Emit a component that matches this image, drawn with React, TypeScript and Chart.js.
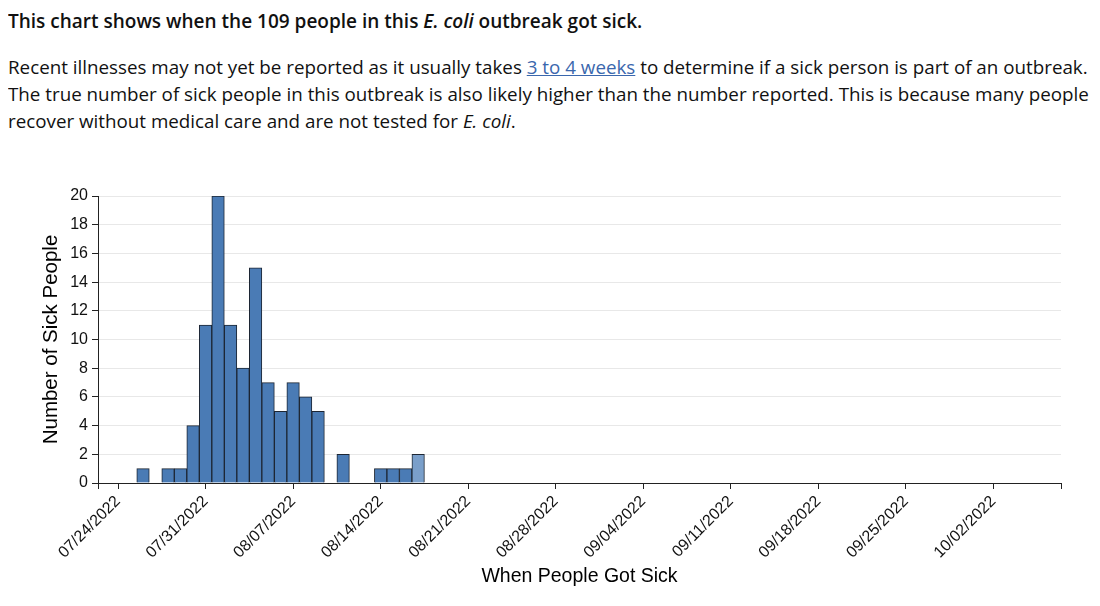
import React, { useEffect, useRef } from "react";
import { Chart, registerables } from "chart.js";

Chart.register(...registerables);

// ---- data ----
const onsetDates = [
  "07/26/2022", "07/28/2022", "07/29/2022", "07/30/2022", "07/31/2022",
  "08/01/2022", "08/02/2022", "08/03/2022", "08/04/2022", "08/05/2022",
  "08/06/2022", "08/07/2022", "08/08/2022", "08/09/2022", "08/11/2022",
  "08/14/2022", "08/15/2022", "08/16/2022", "08/17/2022",
];
const sickCounts = [1, 1, 1, 4, 11, 20, 11, 8, 15, 7, 5, 7, 6, 5, 2, 1, 1, 1, 2];
const xTickLabels = [
  "07/24/2022", "07/31/2022", "08/07/2022", "08/14/2022", "08/21/2022",
  "08/28/2022", "09/04/2022", "09/11/2022", "09/18/2022", "09/25/2022", "10/02/2022",
];
const yTickValues = [0, 2, 4, 6, 8, 10, 12, 14, 16, 18, 20];
const recentSince = "08/17/2022";
const domainStartOffset = -1.6; // days before first tick
const domainEndOffset = 75.4; // days after first tick

const refDate = xTickLabels[0];
function toUTC(s: string) {
  const [m, d, y] = s.split("/").map(Number);
  return Date.UTC(y, m - 1, d);
}
function dayIndex(s: string) {
  return Math.round((toUTC(s) - toUTC(refDate)) / 86400000);
}

const DARK = "#4a7bb5";
const LIGHT = "#7a9fca";
const AXIS_FONT = "'Liberation Sans', Arial, sans-serif";

export default function App() {
  const ref = useRef<HTMLCanvasElement | null>(null);

  useEffect(() => {
    if (!ref.current) return;
    const recentIdx = dayIndex(recentSince);
    const tickVals = xTickLabels.map(dayIndex);
    const labelMap = new Map<number, string>();
    xTickLabels.forEach((l) => labelMap.set(dayIndex(l), l));

    const chart = new Chart(ref.current, {
      type: "bar",
      data: {
        datasets: [
          {
            data: onsetDates.map((d, i) => ({ x: dayIndex(d), y: sickCounts[i] })),
            backgroundColor: (ctx: any) =>
              ctx.raw && ctx.raw.x >= recentIdx ? LIGHT : DARK,
            borderColor: "#1d2633",
            borderWidth: 1,
            categoryPercentage: 1,
            barPercentage: 1,
          } as any,
        ],
      },
      options: {
        animation: false,
        responsive: true,
        maintainAspectRatio: false,
        layout: { padding: { left: 0, right: 39, top: 46, bottom: 0 } },
        plugins: {
          legend: { display: false },
          tooltip: { enabled: false },
        },
        scales: {
          x: {
            type: "linear",
            min: domainStartOffset,
            max: domainEndOffset,
            offset: false,
            afterBuildTicks: (scale: any) => {
              scale.ticks = [domainStartOffset, ...tickVals, domainEndOffset].map((v) => ({ value: v }));
            },
            afterFit: (scale: any) => {
              scale.height = 123;
            },
            ticks: {
              autoSkip: false,
              maxRotation: 45,
              minRotation: 45,
              padding: 3,
              color: "#111",
              font: { family: AXIS_FONT, size: 16 },
              callback: (v: any) => labelMap.get(Number(v)) ?? "",
            },
            grid: {
              offset: false,
              drawOnChartArea: false,
              drawTicks: true,
              tickLength: 6,
              tickColor: "#222",
              tickWidth: 1,
            },
            border: { display: true, color: "#222", width: 1 },
            title: {
              display: true,
              text: "When People Got Sick",
              color: "#000",
              font: { family: AXIS_FONT, size: 19.5 },
              padding: { top: 0, bottom: 18 },
            },
          },
          y: {
            min: 0,
            max: 20,
            afterBuildTicks: (scale: any) => {
              scale.ticks = yTickValues.map((v) => ({ value: v }));
            },
            afterFit: (scale: any) => {
              scale.width = 98;
            },
            ticks: {
              padding: 4,
              color: "#111",
              font: { family: AXIS_FONT, size: 16 },
            },
            grid: {
              color: "#e8e8e8",
              lineWidth: 1,
              drawTicks: true,
              tickLength: 6,
              tickColor: "#222",
            },
            border: { display: true, color: "#222", width: 1 },
            title: {
              display: true,
              text: "Number of Sick People",
              color: "#000",
              font: { family: AXIS_FONT, size: 20.5 },
              padding: { top: 39, bottom: 0 },
            },
          },
        },
      } as any,
    });
    return () => chart.destroy();
  }, []);

  const textFont = "'Open Sans', 'Noto Sans', sans-serif";
  return (
    <div style={{ position: "relative", width: 1100, height: 606, margin: -8, overflow: "hidden", background: "#fff" }}>
      <div
        style={{
          position: "absolute",
          left: 8,
          top: 9,
          fontFamily: textFont,
          fontSize: 19,
          fontWeight: 600,
          lineHeight: "24px",
          color: "#111",
          whiteSpace: "nowrap",
        }}
      >
        This chart shows when the 109 people in this <i>E. coli</i> outbreak got sick.
      </div>
      <div
        style={{
          position: "absolute",
          left: 8,
          top: 54,
          fontFamily: textFont,
          fontSize: 18.8,
          lineHeight: "27px",
          color: "#111",
          whiteSpace: "nowrap",
        }}
      >
        Recent illnesses may not yet be reported as it usually takes{" "}
        <a href="#" style={{ color: "#3a67ad", textDecoration: "underline" }}>3 to 4 weeks</a> to determine if a sick
        person is part of an outbreak.
        <br />
        The true number of sick people in this outbreak is also likely higher than the number reported. This is
        because many people
        <br />
        recover without medical care and are not tested for <i>E. coli</i>.
      </div>
      <div style={{ position: "absolute", left: 0, top: 150, width: 1100, height: 456 }}>
        <canvas ref={ref} />
      </div>
    </div>
  );
}
